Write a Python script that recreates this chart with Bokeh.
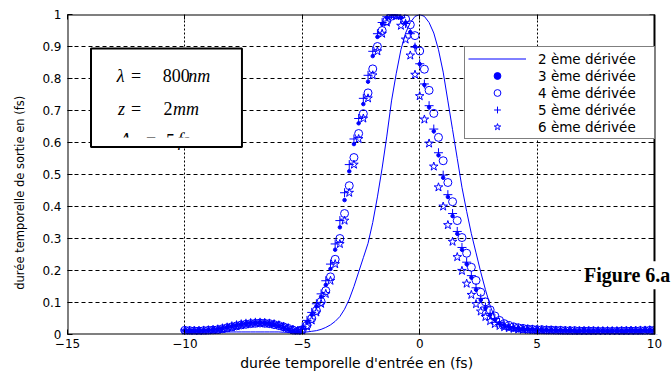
from bokeh.plotting import figure
from bokeh.models import (FixedTicker, LinearAxis, Legend, LegendItem, BoxAnnotation,
                          Label, CustomJSTickFormatter, Range1d)
from bokeh.embed import file_html
from bokeh.resources import INLINE

# ---------------- data ----------------
x_in = [-10.0, -9.8, -9.6, -9.4, -9.2, -9.0, -8.8, -8.6, -8.4, -8.2,
        -8.0, -7.8, -7.6, -7.4, -7.2, -7.0, -6.8, -6.6, -6.4, -6.2,
        -6.0, -5.8, -5.6, -5.4, -5.2, -5.0, -4.8, -4.6, -4.4, -4.2,
        -4.0, -3.8, -3.6, -3.4, -3.2, -3.0, -2.8, -2.6, -2.4, -2.2,
        -2.0, -1.8, -1.6, -1.4, -1.2, -1.0, -0.8, -0.6, -0.4, -0.2,
        0.0, 0.2, 0.4, 0.6, 0.8, 1.0, 1.2, 1.4, 1.6, 1.8,
        2.0, 2.2, 2.4, 2.6, 2.8, 3.0, 3.2, 3.4, 3.6, 3.8,
        4.0, 4.2, 4.4, 4.6, 4.8, 5.0, 5.2, 5.4, 5.6, 5.8,
        6.0, 6.2, 6.4, 6.6, 6.8, 7.0, 7.2, 7.4, 7.6, 7.8,
        8.0, 8.2, 8.4, 8.6, 8.8, 9.0, 9.2, 9.4, 9.6, 9.8, 10.0]

deriv2 = [0.008, 0.008, 0.008, 0.008, 0.008, 0.008, 0.008, 0.008, 0.008, 0.008,
          0.008, 0.008, 0.008, 0.008, 0.008, 0.008, 0.008, 0.008, 0.008, 0.008,
          0.008, 0.007, 0.007, 0.006, 0.006, 0.007, 0.008, 0.010, 0.012, 0.016,
          0.022, 0.030, 0.041, 0.056, 0.079, 0.110, 0.150, 0.195, 0.240, 0.285,
          0.350, 0.430, 0.520, 0.620, 0.730, 0.815, 0.890, 0.942, 0.975, 0.994,
          1.000, 0.994, 0.975, 0.942, 0.890, 0.820, 0.730, 0.640, 0.550, 0.460,
          0.385, 0.315, 0.255, 0.195, 0.140, 0.090, 0.052, 0.026, 0.018, 0.015,
          0.014, 0.013, 0.013, 0.012, 0.012, 0.012, 0.011, 0.011, 0.011, 0.011,
          0.011, 0.010, 0.010, 0.010, 0.010, 0.010, 0.010, 0.010, 0.010, 0.010,
          0.010, 0.010, 0.010, 0.010, 0.010, 0.010, 0.010, 0.010, 0.010, 0.010, 0.010]

deriv3 = [0.012, 0.011, 0.010, 0.011, 0.012, 0.013, 0.014, 0.016, 0.019, 0.022,
          0.025, 0.028, 0.031, 0.033, 0.035, 0.036, 0.036, 0.035, 0.033, 0.030,
          0.026, 0.021, 0.016, 0.011, 0.009, 0.020, 0.038, 0.062, 0.088, 0.118,
          0.155, 0.205, 0.265, 0.335, 0.420, 0.510, 0.595, 0.660, 0.720, 0.790,
          0.870, 0.930, 0.970, 0.990, 1.000, 1.000, 0.990, 0.975, 0.945, 0.900,
          0.845, 0.780, 0.710, 0.635, 0.560, 0.490, 0.430, 0.370, 0.315, 0.265,
          0.220, 0.178, 0.140, 0.108, 0.082, 0.062, 0.047, 0.036, 0.029, 0.024,
          0.021, 0.019, 0.017, 0.016, 0.015, 0.014, 0.014, 0.013, 0.013, 0.012,
          0.012, 0.012, 0.011, 0.011, 0.011, 0.011, 0.010, 0.010, 0.010, 0.010,
          0.010, 0.010, 0.010, 0.010, 0.010, 0.010, 0.011, 0.011, 0.012, 0.012, 0.013]

deriv4 = [0.013, 0.012, 0.011, 0.011, 0.012, 0.013, 0.014, 0.015, 0.018, 0.021,
          0.024, 0.027, 0.030, 0.032, 0.034, 0.035, 0.036, 0.035, 0.034, 0.031,
          0.028, 0.024, 0.019, 0.014, 0.010, 0.015, 0.029, 0.050, 0.075, 0.103,
          0.137, 0.180, 0.235, 0.300, 0.378, 0.465, 0.553, 0.628, 0.690, 0.755,
          0.830, 0.900, 0.950, 0.980, 0.995, 1.000, 0.998, 0.986, 0.968, 0.934,
          0.886, 0.829, 0.763, 0.691, 0.616, 0.543, 0.475, 0.415, 0.356, 0.303,
          0.254, 0.210, 0.169, 0.132, 0.102, 0.077, 0.058, 0.044, 0.034, 0.028,
          0.024, 0.021, 0.019, 0.017, 0.016, 0.015, 0.015, 0.014, 0.014, 0.013,
          0.013, 0.012, 0.012, 0.012, 0.011, 0.011, 0.011, 0.011, 0.010, 0.010,
          0.010, 0.010, 0.010, 0.011, 0.011, 0.011, 0.011, 0.012, 0.012, 0.013, 0.013]

deriv5 = [0.011, 0.012, 0.011, 0.012, 0.013, 0.014, 0.015, 0.017, 0.020, 0.023,
          0.027, 0.030, 0.033, 0.035, 0.037, 0.038, 0.038, 0.037, 0.035, 0.032,
          0.028, 0.023, 0.018, 0.013, 0.010, 0.024, 0.044, 0.069, 0.096, 0.127,
          0.168, 0.220, 0.283, 0.356, 0.443, 0.531, 0.611, 0.675, 0.738, 0.810,
          0.885, 0.940, 0.975, 0.993, 1.000, 0.998, 0.990, 0.972, 0.940, 0.898,
          0.846, 0.783, 0.715, 0.642, 0.568, 0.498, 0.437, 0.378, 0.322, 0.272,
          0.226, 0.184, 0.146, 0.113, 0.086, 0.065, 0.050, 0.038, 0.030, 0.025,
          0.022, 0.020, 0.018, 0.017, 0.016, 0.015, 0.014, 0.014, 0.013, 0.013,
          0.012, 0.012, 0.012, 0.011, 0.011, 0.011, 0.011, 0.011, 0.011, 0.011,
          0.011, 0.011, 0.011, 0.011, 0.012, 0.012, 0.012, 0.013, 0.013, 0.014, 0.015]

deriv6 = [0.012, 0.011, 0.011, 0.010, 0.011, 0.012, 0.013, 0.015, 0.017, 0.020,
          0.023, 0.026, 0.029, 0.032, 0.034, 0.035, 0.035, 0.035, 0.034, 0.032,
          0.029, 0.025, 0.020, 0.015, 0.011, 0.012, 0.025, 0.044, 0.069, 0.096,
          0.127, 0.168, 0.220, 0.283, 0.356, 0.443, 0.531, 0.611, 0.675, 0.738,
          0.810, 0.885, 0.940, 0.975, 0.998, 0.995, 0.965, 0.922, 0.872, 0.812,
          0.745, 0.672, 0.597, 0.525, 0.460, 0.400, 0.342, 0.290, 0.242, 0.199,
          0.159, 0.124, 0.095, 0.072, 0.055, 0.042, 0.033, 0.027, 0.023, 0.020,
          0.018, 0.016, 0.015, 0.015, 0.014, 0.013, 0.013, 0.012, 0.012, 0.012,
          0.011, 0.011, 0.011, 0.010, 0.010, 0.010, 0.010, 0.010, 0.010, 0.010,
          0.010, 0.010, 0.010, 0.010, 0.010, 0.011, 0.011, 0.011, 0.012, 0.012, 0.012]

series_labels = ["2 ème dérivée", "3 ème dérivée", "4 ème dérivée",
                 "5 ème dérivée", "6 ème dérivée"]
x_ticks = [-15, -10, -5, 0, 5, 10]
y_ticks = [0, 0.1, 0.2, 0.3, 0.4, 0.5, 0.6, 0.7, 0.8, 0.9, 1]
x_title = "durée temporelle d'entrée en (fs)"
y_title = "durée temporelle de sortie en (fs)"
caption = "Figure 6.a"

BLUE = "#0000ff"
SANS = "DejaVu Sans"
SERIF = "Liberation Serif"
NBSP = "\u00a0"

# The axes box spans x in [-15, 10]; the frame is extended a little past 10 so the
# caption (which overhangs the axes in the original) is not clipped.
X0, X1, XPAD = -15, 10, 0.767
TICK_DX = 0.21   # inward tick length on the right edge, in x units (~5 px)

# ---------------- figure ----------------
p = figure(width=672, height=373, x_range=Range1d(X0, X1 + XPAD), y_range=Range1d(0, 1),
           output_backend="svg", toolbar_location=None,
           min_border_left=67, min_border_right=0, min_border_top=14, min_border_bottom=38)
p.background_fill_color = "white"
p.border_fill_color = "white"
p.outline_line_color = None

fmt = CustomJSTickFormatter(code="return String(Math.round(tick*10)/10);")

p.xaxis.ticker = FixedTicker(ticks=x_ticks)
p.yaxis.ticker = FixedTicker(ticks=y_ticks)
p.yaxis.formatter = fmt
for ax in (p.xaxis[0], p.yaxis[0]):
    ax.major_tick_in = 5
    ax.major_tick_out = 0
    ax.minor_tick_line_color = None
    ax.axis_line_color = None
    ax.major_tick_line_color = "black"
    ax.major_label_text_font = SANS
    ax.major_label_text_font_size = "12px"
    ax.major_label_text_color = "black"
    ax.axis_label_text_font = SANS
    ax.axis_label_text_font_style = "normal"
    ax.axis_label_text_color = "black"
# trailing no-break spaces shift the centred titles to where the original has them
p.xaxis.axis_label = x_title + NBSP * 6
p.yaxis.axis_label = y_title + NBSP * 10
p.xaxis.axis_label_text_font_size = "14px"
p.yaxis.axis_label_text_font_size = "11.5px"
p.xaxis.major_label_standoff = 4
p.xaxis.axis_label_standoff = 4
p.yaxis.major_label_standoff = 6
p.yaxis.axis_label_standoff = 12

# ticks only on the top edge
blank = CustomJSTickFormatter(code="return '';")
top_axis = LinearAxis(ticker=FixedTicker(ticks=x_ticks), formatter=blank,
                      major_label_standoff=0, major_tick_in=5, major_tick_out=0,
                      minor_tick_line_color=None, axis_line_color=None,
                      major_tick_line_color="black")
p.add_layout(top_axis, "above")

p.xgrid.ticker = FixedTicker(ticks=x_ticks)
p.ygrid.ticker = FixedTicker(ticks=y_ticks)
p.xgrid.grid_line_color = "black"
p.xgrid.grid_line_dash = "2 2"
p.xgrid.grid_line_width = 1
p.ygrid.grid_line_color = "black"
p.ygrid.grid_line_dash = "4 3"
p.ygrid.grid_line_width = 1

# inward ticks on the right edge of the axes box
p.segment(x0=[X1 - TICK_DX] * len(y_ticks), y0=y_ticks, x1=[X1] * len(y_ticks), y1=y_ticks,
          line_color="black", line_width=1)

# ---------------- series ----------------
r2 = p.line(x_in, deriv2, line_color=BLUE, line_width=1)
r3 = p.scatter(x_in, deriv3, marker="circle", size=3.5, fill_color=BLUE, line_color=BLUE)
r4 = p.scatter(x_in, deriv4, marker="circle", size=8, fill_color=None, line_color=BLUE, line_width=1)
r5 = p.scatter(x_in, deriv5, marker="cross", size=9, line_color=BLUE, line_width=1)
r6 = p.scatter(x_in, deriv6, marker="star", size=9, fill_color=None, line_color=BLUE, line_width=1)

# white area right of the axes box (outside the original axes)
p.add_layout(BoxAnnotation(left=X1, fill_color="white", fill_alpha=1, line_color=None,
                           level="annotation"))
# axes box outline
p.add_layout(BoxAnnotation(left=X0, right=X1, bottom=0, top=1, fill_color=None,
                           line_color="black", line_alpha=1, line_width=2,
                           level="annotation"))

legend = Legend(items=[LegendItem(label=l, renderers=[r])
                       for l, r in zip(series_labels, [r2, r3, r4, r5, r6])],
                location=(397, 195))
legend.border_line_color = "black"
legend.border_line_width = 1
legend.background_fill_color = "white"
legend.background_fill_alpha = 1
legend.label_text_font = SANS
legend.label_text_font_size = "13.5px"
legend.label_text_color = "black"
legend.padding = 3
legend.spacing = 0
legend.margin = 0
legend.glyph_width = 58
legend.glyph_height = 17
legend.label_height = 17
legend.label_width = 113
legend.label_standoff = 12
p.add_layout(legend)

# ---------------- parameter text box ----------------
p.add_layout(BoxAnnotation(left=-14.0, right=-7.57, top=0.894, bottom=0.586,
                           fill_color="white", fill_alpha=1,
                           line_color="black", line_alpha=1, line_width=2,
                           level="annotation"))

def lab(x, y, t, style="normal", size="18px", font=SERIF):
    p.add_layout(Label(x=x, y=y, text=t, text_font=font, text_font_size=size,
                       text_font_style=style, text_color="black",
                       text_baseline="alphabetic", text_align="left"))

Y1, Y2, Y3 = 0.809, 0.705, 0.6075
lab(-12.90, Y1, "λ", "italic")
lab(-12.30, Y1, "=")
lab(-10.94, Y1, "800")
lab(-9.86, Y1, "nm", "italic")
lab(-12.85, Y2, "z", "italic")
lab(-12.30, Y2, "=")
lab(-10.91, Y2, "2")
lab(-10.51, Y2, "mm", "italic")
lab(-12.77, Y3, "Δ", "italic")
lab(-11.66, Y3, "=")
lab(-10.81, Y3, "5")
lab(-10.30, Y3, "fs", "italic")

# the text box clips its last line: mask the lower half inside the box
p.add_layout(BoxAnnotation(left=-13.92, right=-7.64, top=0.6153, bottom=0.5888,
                           fill_color="white", fill_alpha=1, line_color=None,
                           level="annotation"))

# ---------------- figure caption ----------------
p.add_layout(Label(x=6.87, y=0.185, text=caption, text_font=SERIF,
                   text_font_size="20px", text_font_style="bold", text_color="black",
                   text_baseline="alphabetic", background_fill_color="white",
                   background_fill_alpha=1, padding=3))

open("out.html", "w").write(file_html(p, INLINE))
